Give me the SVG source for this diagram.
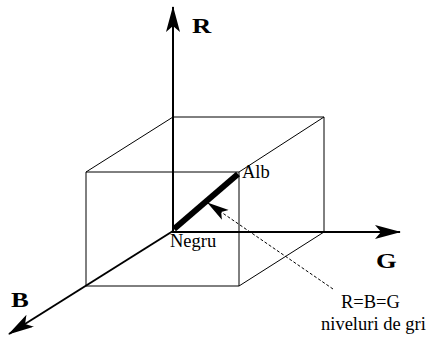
<svg xmlns="http://www.w3.org/2000/svg" width="429" height="337" viewBox="0 0 429 337">
<style>
.axis{stroke:#000;stroke-width:2;fill:none}
.edge{stroke:#000;stroke-width:1;fill:none}
.lbl{font-family:"Liberation Serif","Times New Roman",serif;font-weight:bold;font-size:20.5px;fill:#000}
.txt{font-family:"Liberation Serif","Times New Roman",serif;font-size:18.5px;fill:#000}
</style>
<defs>
<marker id="ah" markerUnits="userSpaceOnUse" markerWidth="28" markerHeight="16" refX="25" refY="7" orient="auto" viewBox="0 0 28 16">
<path d="M0,0 L26,7 L0,14 L6,7 Z" fill="#000"/>
</marker>
<marker id="ahs" markerUnits="userSpaceOnUse" markerWidth="24" markerHeight="14" refX="21" refY="6" orient="auto" viewBox="0 0 24 14">
<path d="M0,0 L22,6 L0,12 L5,6 Z" fill="#000"/>
</marker>
</defs>
<g id="cube">
<polyline class="edge" points="173,117 324,117 324,232"/>
<polyline class="edge" points="173,117 86,172 239,172 324,117"/>
<polyline class="edge" points="86,172 86,286 239,286 239,172"/>
<line class="edge" x1="239" y1="286" x2="324" y2="232"/>
</g>
<g id="connectors">
<line id="axis-R" class="axis" x1="173" y1="232" x2="173" y2="7" marker-end="url(#ah)"/>
<line id="axis-G" class="axis" x1="172" y1="232" x2="400" y2="232" marker-end="url(#ah)"/>
<line id="axis-B" class="axis" x1="173" y1="231" x2="9" y2="334" marker-end="url(#ah)"/>
<line id="gray" x1="174" y1="229" x2="238" y2="174" stroke="#000" stroke-width="6"/>
<line id="pointer" x1="333" y1="289" x2="208" y2="203" stroke="#000" stroke-width="1" stroke-dasharray="3,2" marker-end="url(#ahs)"/>
</g>
<g id="label-R"><text class="lbl" transform="translate(192,33) scale(1.3,1)">R</text></g>
<g id="label-G"><text class="lbl" transform="translate(376,268) scale(1.3,1)">G</text></g>
<g id="label-B"><text class="lbl" transform="translate(11,307) scale(1.3,1)">B</text></g>
<g id="label-Alb"><text class="txt" x="242" y="178" font-size="17">Alb</text></g>
<g id="label-Negru"><text class="txt" x="170" y="247">Negru</text></g>
<g id="label-gri">
<text class="txt" x="341" y="308">R=B=G</text>
<text class="txt" x="321" y="330">niveluri de gri</text>
</g>
</svg>
